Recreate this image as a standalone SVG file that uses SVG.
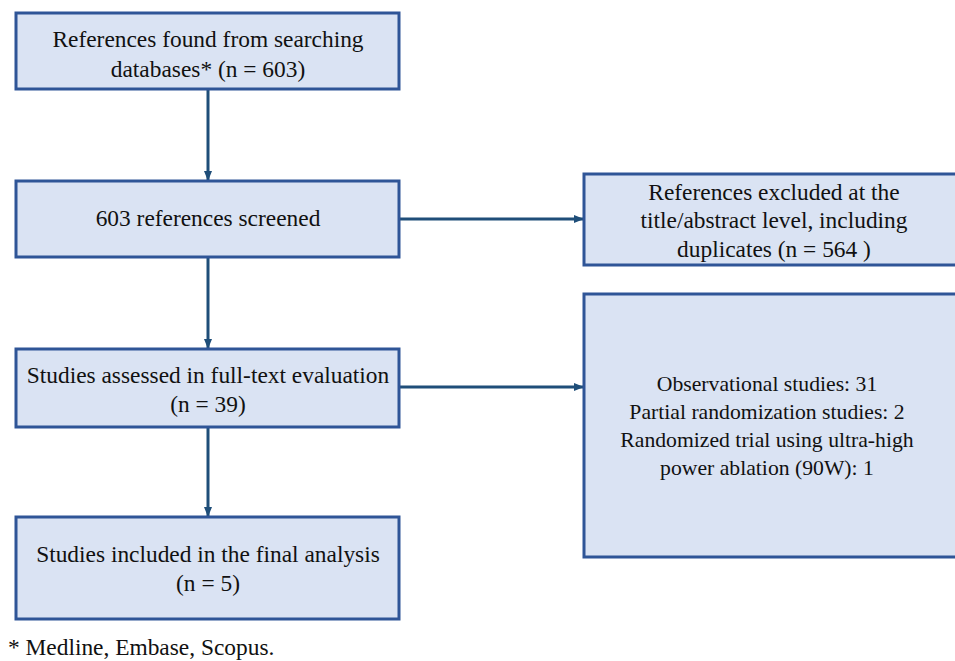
<svg xmlns="http://www.w3.org/2000/svg" width="955" height="661" viewBox="0 0 955 661">
<defs>
<marker id="ah" markerWidth="10" markerHeight="10" refX="9" refY="5" orient="auto" markerUnits="userSpaceOnUse">
<path d="M0,1 L10,5 L0,9 Z" fill="#1f4e79"/>
</marker>
<style>
.box{fill:#dae3f3;stroke:#2f5597;stroke-width:3}
.t{font-family:"Liberation Serif","Times New Roman",serif;font-size:23.4px;fill:#111;text-anchor:middle}
.s{font-size:21.7px}
.c{stroke:#1f4e79;stroke-width:3;fill:none;marker-end:url(#ah)}
</style>
</defs>
<rect width="955" height="661" fill="#fff"/>
<g id="connectors">
<line class="c" x1="208" y1="89" x2="208" y2="180"/>
<line class="c" x1="208" y1="257" x2="208" y2="348"/>
<line class="c" x1="208" y1="427" x2="208" y2="516"/>
<line class="c" x1="399" y1="219" x2="583" y2="219"/>
<line class="c" x1="399" y1="387" x2="583" y2="387"/>
</g>
<g id="n1">
<rect class="box" x="16" y="13" width="383" height="76"/>
<text class="t" x="208" y="47">References found from searching</text>
<text class="t" x="208" y="77">databases* (n = 603)</text>
</g>
<g id="n2">
<rect class="box" x="16" y="181" width="383" height="76"/>
<text class="t" x="208" y="226">603 references screened</text>
</g>
<g id="n3">
<rect class="box" x="16" y="349" width="383" height="78"/>
<text class="t" x="208" y="383">Studies assessed in full-text evaluation</text>
<text class="t" x="208" y="412">(n = 39)</text>
</g>
<g id="n4">
<rect class="box" x="16" y="517" width="383" height="102"/>
<text class="t" x="208" y="562">Studies included in the final analysis</text>
<text class="t" x="208" y="591">(n = 5)</text>
</g>
<g id="n5">
<rect class="box" x="584" y="174" width="380" height="91"/>
<text class="t" x="774" y="200">References excluded at the</text>
<text class="t" x="774" y="228">title/abstract level, including</text>
<text class="t" x="774" y="257">duplicates (n = 564 )</text>
</g>
<g id="n6">
<rect class="box" x="584" y="294" width="380" height="263"/>
<text class="t s" x="767" y="391">Observational studies: 31</text>
<text class="t s" x="767" y="419">Partial randomization studies: 2</text>
<text class="t s" x="767" y="447">Randomized trial using ultra-high</text>
<text class="t s" x="767" y="475">power ablation (90W): 1</text>
</g>
<text x="8" y="655" style="font-family:'Liberation Serif','Times New Roman',serif;font-size:23.4px;fill:#111">* Medline, Embase, Scopus.</text>
</svg>
